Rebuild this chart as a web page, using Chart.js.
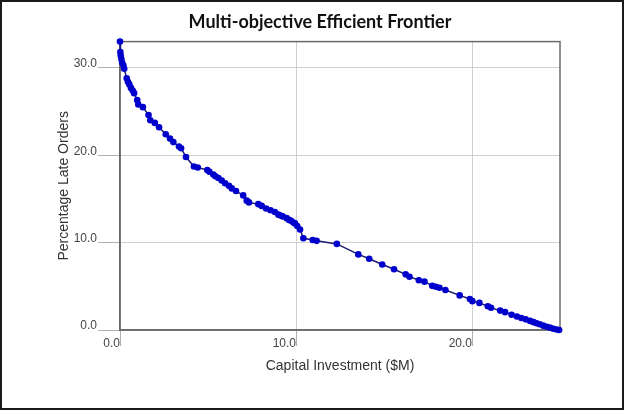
<!DOCTYPE html>
<html>
<head>
<meta charset="utf-8">
<script src="https://cdn.jsdelivr.net/npm/chart.js@4"></script>
<style>
  html, body { margin: 0; padding: 0; background: #fff; }
  #frame { position: fixed; left: 0; top: 0; width: 624px; height: 410px; box-sizing: border-box; border: 2px solid #1a1a1a; pointer-events: none; }
</style>
</head>
<body>
<canvas id="frontierCanvas" width="624" height="410"></canvas>
<div id="frame"></div>
<script>
// values
const capital = [
  0.00, 0.02, 0.04, 0.08, 0.12, 0.19, 0.24, 0.38, 0.45, 0.53,
  0.62, 0.72, 0.80, 0.98, 1.04, 1.30, 1.62, 1.72, 1.98, 2.22,
  2.60, 2.84, 3.03, 3.35, 3.47, 3.75, 4.20, 4.42, 4.96, 5.08,
  5.30, 5.42, 5.59, 5.78, 5.97, 6.19, 6.35, 6.59, 7.00, 7.20,
  7.33, 7.86, 8.05, 8.30, 8.55, 8.80, 9.00, 9.12, 9.24, 9.47,
  9.60, 9.72, 9.85, 9.94, 10.07, 10.23, 10.42, 10.95, 11.17, 12.32,
  13.54, 14.16, 14.90, 15.57, 16.23, 16.45, 16.98, 17.30, 17.74, 17.95,
  18.15, 18.49, 19.30, 19.88, 20.02, 20.42, 20.90, 21.08, 21.60, 21.88,
  22.25, 22.55, 22.80, 23.05, 23.30, 23.50, 23.67, 23.85, 24.05, 24.25,
  24.43, 24.62, 24.81, 24.95
];
const lateOrders = [
  33.0, 31.8, 31.4, 31.0, 30.6, 30.3, 29.9, 28.8, 28.4, 28.1,
  27.7, 27.4, 27.1, 26.3, 25.8, 25.5, 24.6, 24.0, 23.7, 23.2,
  22.4, 21.9, 21.5, 21.0, 20.8, 19.8, 18.7, 18.6, 18.3, 18.1,
  17.8, 17.6, 17.4, 17.1, 16.8, 16.5, 16.2, 15.9, 15.4, 14.8,
  14.6, 14.4, 14.2, 13.9, 13.7, 13.5, 13.2, 13.1, 13.0, 12.8,
  12.6, 12.5, 12.3, 12.2, 11.9, 11.5, 10.5, 10.3, 10.2, 9.85,
  8.65, 8.15, 7.5, 6.95, 6.37, 6.1, 5.7, 5.53, 5.05, 4.95,
  4.84, 4.57, 3.96, 3.55, 3.3, 3.1, 2.72, 2.54, 2.22, 2.04,
  1.75, 1.55, 1.38, 1.22, 1.04, 0.9, 0.78, 0.65, 0.5, 0.38,
  0.27, 0.15, 0.05, 0.0
];
const xRange = [0, 25];
const yRange = [0, 33];
const tickStep = 10;

const points = capital.map((c, i) => ({ x: c, y: lateOrders[i] }));

// outline round the plot area
const plotFrame = {
  id: 'plotFrame',
  beforeDatasetsDraw(chart) {
    const a = chart.chartArea;
    const ctx = chart.ctx;
    ctx.save();
    ctx.strokeStyle = '#6a6a6a';
    ctx.lineWidth = 1.5;
    ctx.strokeRect(a.left, a.top, a.right - a.left, a.bottom - a.top);
    ctx.restore();
  }
};

const tickFont = { family: "'Liberation Sans', Arial, sans-serif", size: 12 };
const titleFont = { family: "'Liberation Sans', Arial, sans-serif", size: 14 };

new Chart(document.getElementById('frontierCanvas'), {
  type: 'scatter',
  data: {
    datasets: [{
      label: 'Frontier',
      data: points,
      showLine: true,
      borderColor: '#1a1a70',
      borderWidth: 1.5,
      backgroundColor: '#0000cc',
      pointBackgroundColor: '#0000cc',
      pointBorderColor: '#0000cc',
      pointRadius: 3.3,
      pointBorderWidth: 0,
      clip: false
    }]
  },
  plugins: [plotFrame],
  options: {
    responsive: false,
    animation: false,
    layout: { padding: { left: 16, right: 0, top: 0, bottom: 0 } },
    plugins: {
      legend: { display: false },
      tooltip: { enabled: false },
      title: {
        display: true,
        text: 'Multi-objective Efficient Frontier',
        color: '#111',
        font: { family: "Lato, 'Liberation Sans', sans-serif", size: 18, weight: 'bold' },
        padding: { top: 11, bottom: 9 }
      }
    },
    scales: {
      x: {
        type: 'linear',
        min: xRange[0],
        max: xRange[1],
        afterFit: s => { s.height = 80; },
        border: { color: '#6a6a6a', width: 1.5 },
        grid: { color: '#cfcfcf', lineWidth: 1, tickLength: 16, tickColor: '#b0b0b0' },
        ticks: {
          stepSize: tickStep,
          includeBounds: false,
          align: 'end',
          padding: -10,
          maxRotation: 0,
          color: '#444',
          font: tickFont,
          callback: v => v.toFixed(1)
        },
        title: {
          display: true,
          text: 'Capital Investment ($M)',
          color: '#333',
          font: titleFont,
          padding: { top: 0, bottom: 35 }
        }
      },
      y: {
        type: 'linear',
        min: yRange[0],
        max: yRange[1],
        afterFit: s => { s.width = 104; },
        border: { color: '#6a6a6a', width: 1.5 },
        grid: { color: '#cfcfcf', lineWidth: 1, tickLength: 22, tickColor: '#b0b0b0' },
        ticks: {
          stepSize: tickStep,
          includeBounds: false,
          labelOffset: -4,
          padding: 1,
          color: '#444',
          font: tickFont,
          callback: v => v.toFixed(1)
        },
        title: {
          display: true,
          text: 'Percentage Late Orders',
          color: '#333',
          font: titleFont,
          padding: { top: 40, bottom: 0 }
        }
      },
      yRight: {
        type: 'linear',
        position: 'right',
        afterFit: s => { s.width = 64; },
        border: { display: false },
        grid: { display: false },
        ticks: { display: false }
      }
    }
  }
});
</script>
</body>
</html>
